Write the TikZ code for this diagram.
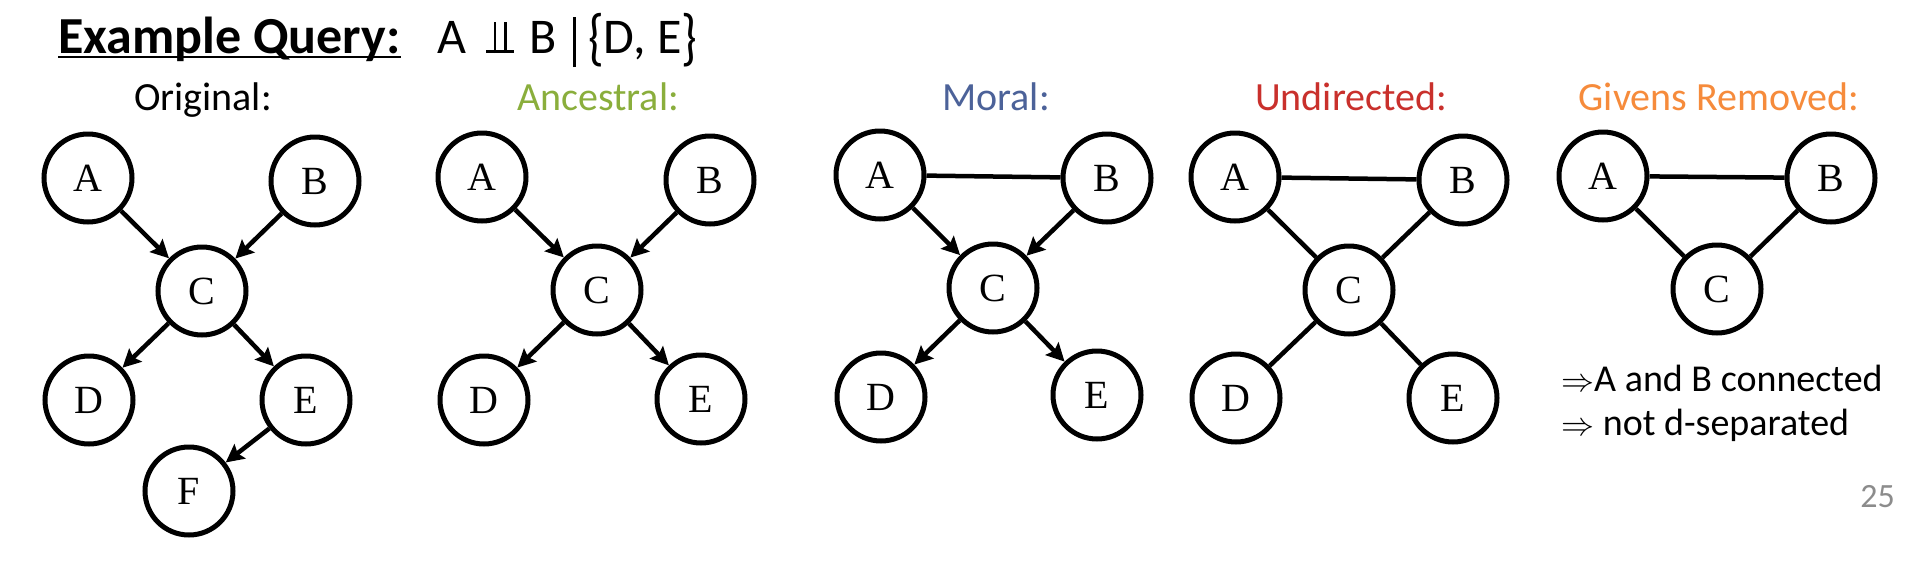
\documentclass[tikz,border=0pt]{standalone}
\usepackage{graphicx}
\usepackage{fontspec}
\setmainfont{Carlito}
\newfontfamily\nodefont{Liberation Serif}
\usetikzlibrary{arrows.meta}
\definecolor{ancgreen}{HTML}{8AAE3C}
\definecolor{moralblue}{HTML}{4C6299}
\definecolor{undred}{HTML}{C9302C}
\definecolor{givorange}{HTML}{F68B3B}
\definecolor{pagegray}{HTML}{8C8C8C}
\newcommand{\myindep}{\makebox[28pt]{\rule{2.6pt}{31pt}\hspace{8pt}\rule{2.6pt}{31pt}}\hspace{-28pt}\rule{28pt}{2.6pt}}
\newcommand{\mybar}{\rule[-14pt]{2.8pt}{50pt}}
\newcommand{\myimp}{\resizebox{33pt}{!}{$\Rightarrow$}}
\newcommand{\mybrace}[1]{\raisebox{-5pt}{\scalebox{1}[1.25]{#1}}}
\begin{document}
\begin{tikzpicture}[x=1pt,y=-1pt,
  vnode/.style={circle,draw,line width=5pt,minimum size=88pt,inner sep=0pt,font=\nodefont\fontsize{40}{42}\selectfont},
  arr/.style={line width=4.5pt,-{Stealth[length=18pt,width=18pt,inset=3pt]}},
  und/.style={line width=4.5pt},
  lbl/.style={anchor=base,inner sep=0pt,font=\fontsize{40}{44}\selectfont},
  txt/.style={anchor=base west,inner sep=0pt,font=\fontsize{38}{42}\selectfont}]
\fill[white] (0,0) rectangle (1928,576);
\useasboundingbox (0,0) rectangle (1928,576);

% title
\node[anchor=base west,inner sep=0pt,font=\bfseries\fontsize{52}{58}\selectfont] (title) at (58,53) {Example Query:};
\draw[line width=1.5pt] ([yshift=-4pt]title.base west) -- ([yshift=-4pt]title.base east);
\node[anchor=base west,inner sep=0pt,font=\fontsize{50}{58}\selectfont] (query) at (437,53) {A\hspace{20pt}\myindep\hspace{15pt}B\hspace{17pt}\mybar\hspace{12pt}\mybrace{\{}D, E\mybrace{\}}};

% labels
\node[lbl] (l1) at (203,110) {Original:};
\node[lbl,text=ancgreen] (l2) at (598,110) {Ancestral:};
\node[lbl,text=moralblue] (l3) at (996,110) {Moral:};
\node[lbl,text=undred] (l4) at (1351,110) {Undirected:};
\node[lbl,text=givorange] (l5) at (1719,110) {Givens Removed:};

% Original
\node[vnode] (oA) at (88,178) {A};
\node[vnode] (oB) at (315,181) {B};
\node[vnode] (oC) at (202,291) {C};
\node[vnode] (oD) at (89,400) {D};
\node[vnode] (oE) at (306,400) {E};
\node[vnode] (oF) at (189,491) {F};
\draw[arr] (oA) -- (oC);
\draw[arr] (oB) -- (oC);
\draw[arr] (oC) -- (oD);
\draw[arr] (oC) -- (oE);
\draw[arr] (oE) -- (oF);

% Ancestral
\node[vnode] (aA) at (482,177) {A};
\node[vnode] (aB) at (710,180) {B};
\node[vnode] (aC) at (597,290) {C};
\node[vnode] (aD) at (484,400) {D};
\node[vnode] (aE) at (701,399) {E};
\draw[arr] (aA) -- (aC);
\draw[arr] (aB) -- (aC);
\draw[arr] (aC) -- (aD);
\draw[arr] (aC) -- (aE);

% Moral
\node[vnode] (mA) at (880,175) {A};
\node[vnode] (mB) at (1107,178) {B};
\node[vnode] (mC) at (993,288) {C};
\node[vnode] (mD) at (881,397) {D};
\node[vnode] (mE) at (1097,395) {E};
\draw[und] (mA) -- (mB);
\draw[arr] (mA) -- (mC);
\draw[arr] (mB) -- (mC);
\draw[arr] (mC) -- (mD);
\draw[arr] (mC) -- (mE);

% Undirected
\node[vnode] (uA) at (1235,177) {A};
\node[vnode] (uB) at (1463,180) {B};
\node[vnode] (uC) at (1349,290) {C};
\node[vnode] (uD) at (1236,398) {D};
\node[vnode] (uE) at (1453,398) {E};
\draw[und] (uA) -- (uB);
\draw[und] (uA) -- (uC);
\draw[und] (uB) -- (uC);
\draw[und] (uC) -- (uD);
\draw[und] (uC) -- (uE);

% Givens removed
\node[vnode] (gA) at (1603,176) {A};
\node[vnode] (gB) at (1831,178) {B};
\node[vnode] (gC) at (1717,289) {C};
\draw[und] (gA) -- (gB);
\draw[und] (gA) -- (gC);
\draw[und] (gB) -- (gC);

% conclusion
\node[txt] (t1) at (1561,391) {\myimp A and B connected};
\node[txt] (t2) at (1561,435) {\myimp{} not d-separated};

% page number
\node[anchor=base east,inner sep=0pt,text=pagegray,font=\fontsize{34}{38}\selectfont] (pg) at (1895,507) {25};
\end{tikzpicture}
\end{document}
